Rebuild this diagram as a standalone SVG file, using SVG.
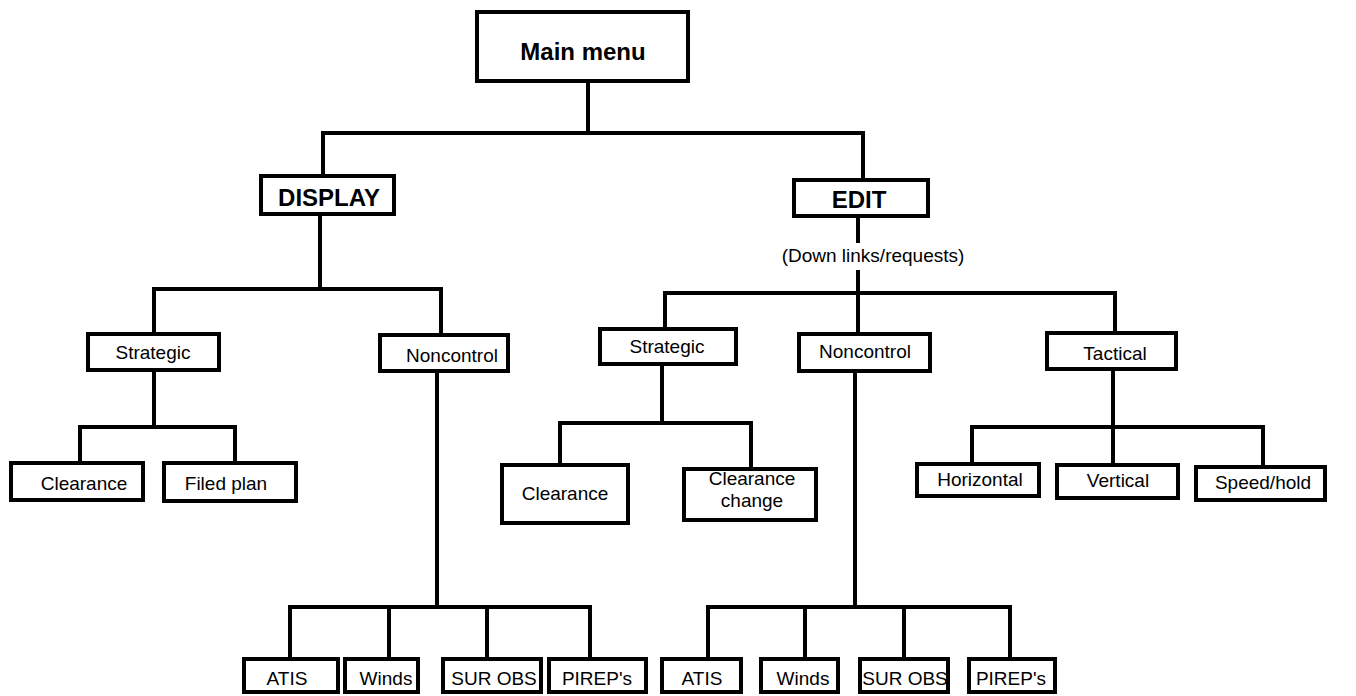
<svg xmlns="http://www.w3.org/2000/svg" width="1356" height="696" viewBox="0 0 1356 696">
<style>
.box{fill:#fff;stroke:#000;stroke-width:4}
.t{font-family:"Liberation Sans",Arial,sans-serif;font-size:19px;fill:#000;text-anchor:middle}
.b{font-family:"Liberation Sans",Arial,sans-serif;font-size:24px;font-weight:bold;fill:#000;text-anchor:middle}
.c{fill:none;stroke:#000;stroke-width:4;stroke-linejoin:miter}
</style>
<rect width="1356" height="696" fill="#fff"/>
<g id="connectors">
<path class="c" d="M588,83 V133"/>
<path class="c" d="M323,174 V133 H863 V178"/>
<path class="c" d="M320,216 V289"/>
<path class="c" d="M154,332 V289 H441 V333"/>
<path class="c" d="M154,372 V427"/>
<path class="c" d="M80,461 V427 H235 V461"/>
<path class="c" d="M437,373 V607"/>
<path class="c" d="M290,657 V607 H590 V657"/>
<path class="c" d="M389,607 V657 M487,607 V657"/>
<path class="c" d="M858,218 V243 M858,270 V293"/>
<path class="c" d="M665,327 V293 H1115 V331"/>
<path class="c" d="M858,293 V332"/>
<path class="c" d="M662,366 V423"/>
<path class="c" d="M560,463 V423 H751 V467"/>
<path class="c" d="M855,373 V607"/>
<path class="c" d="M708,657 V607 H1010 V657"/>
<path class="c" d="M805,607 V657 M904,607 V657"/>
<path class="c" d="M1113,371 V427"/>
<path class="c" d="M972,462 V427 H1263 V465"/>
<path class="c" d="M1113,427 V463"/>
</g>
<text class="t" x="873" y="262">(Down links/requests)</text>
<g id="main"><rect class="box" x="477" y="12" width="211" height="69"/><text class="b" x="583" y="60">Main menu</text></g>
<g id="display"><rect class="box" x="261" y="176" width="133" height="38"/><text class="b" x="329" y="206">DISPLAY</text></g>
<g id="edit"><rect class="box" x="794" y="180" width="134" height="36"/><text class="b" x="859" y="208">EDIT</text></g>
<g id="d_strategic"><rect class="box" x="88" y="334" width="131" height="36"/><text class="t" x="153" y="359">Strategic</text></g>
<g id="d_noncontrol"><rect class="box" x="380" y="335" width="128" height="36"/><text class="t" x="452" y="362">Noncontrol</text></g>
<g id="d_clearance"><rect class="box" x="11" y="463" width="132" height="37"/><text class="t" x="84" y="490">Clearance</text></g>
<g id="d_filed"><rect class="box" x="164" y="463" width="132" height="38"/><text class="t" x="226" y="490">Filed plan</text></g>
<g id="e_strategic"><rect class="box" x="600" y="329" width="136" height="35"/><text class="t" x="667" y="353">Strategic</text></g>
<g id="e_noncontrol"><rect class="box" x="799" y="334" width="131" height="37"/><text class="t" x="865" y="358">Noncontrol</text></g>
<g id="e_tactical"><rect class="box" x="1047" y="333" width="129" height="36"/><text class="t" x="1115" y="360">Tactical</text></g>
<g id="e_clearance"><rect class="box" x="502" y="465" width="126" height="58"/><text class="t" x="565" y="500">Clearance</text></g>
<g id="e_clearance_change"><rect class="box" x="684" y="469" width="132" height="51"/><text class="t" x="752" y="485">Clearance</text><text class="t" x="752" y="507">change</text></g>
<g id="e_horizontal"><rect class="box" x="917" y="464" width="122" height="32"/><text class="t" x="980" y="486">Horizontal</text></g>
<g id="e_vertical"><rect class="box" x="1057" y="465" width="121" height="33"/><text class="t" x="1118" y="487">Vertical</text></g>
<g id="e_speed"><rect class="box" x="1196" y="467" width="129" height="33"/><text class="t" x="1263" y="489">Speed/hold</text></g>
<g id="d_atis"><rect class="box" x="244" y="659" width="94" height="33"/><text class="t" x="287" y="685">ATIS</text></g>
<g id="d_winds"><rect class="box" x="345" y="659" width="73" height="33"/><text class="t" x="386" y="685">Winds</text></g>
<g id="d_surobs"><rect class="box" x="443" y="659" width="98" height="33"/><text class="t" x="494" y="685">SUR OBS</text></g>
<g id="d_pireps"><rect class="box" x="549" y="659" width="97" height="33"/><text class="t" x="597" y="685">PIREP's</text></g>
<g id="e_atis"><rect class="box" x="662" y="659" width="79" height="33"/><text class="t" x="702" y="685">ATIS</text></g>
<g id="e_winds"><rect class="box" x="761" y="659" width="77" height="33"/><text class="t" x="803" y="685">Winds</text></g>
<g id="e_surobs"><rect class="box" x="860" y="659" width="88" height="33"/><text class="t" x="905" y="685">SUR OBS</text></g>
<g id="e_pireps"><rect class="box" x="969" y="659" width="86" height="33"/><text class="t" x="1011" y="685">PIREP's</text></g>
</svg>
